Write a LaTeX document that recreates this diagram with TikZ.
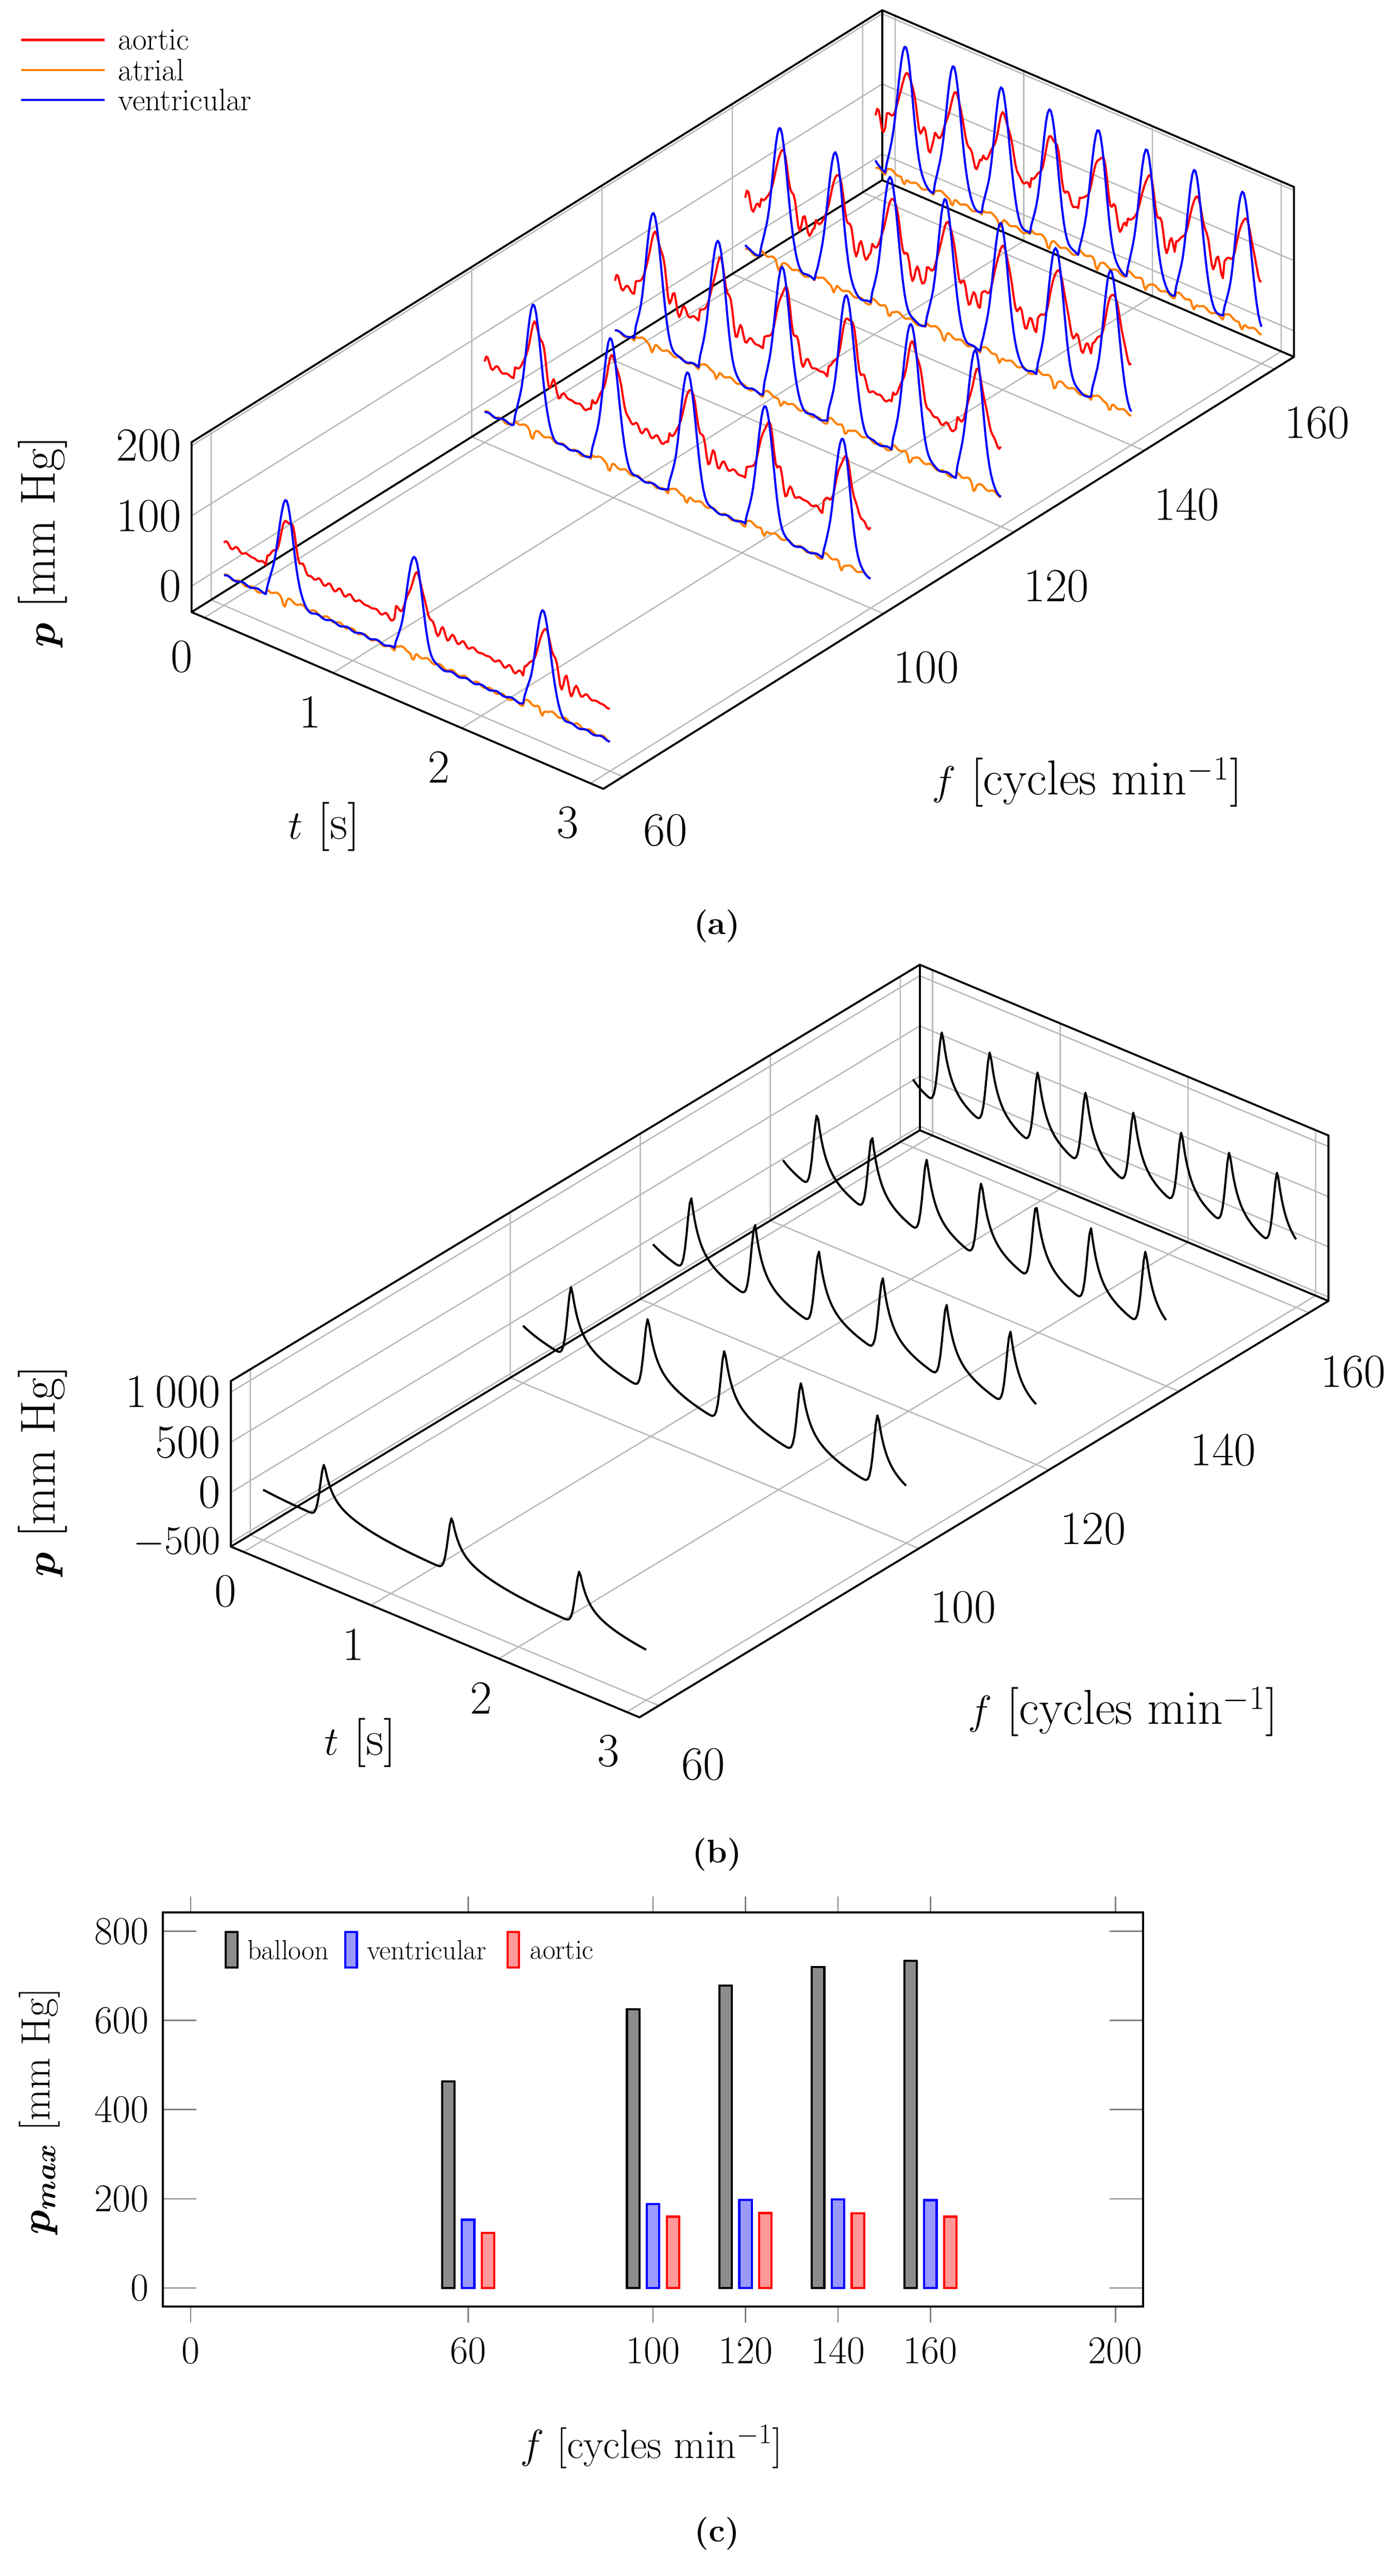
\documentclass[tikz,border=0pt]{standalone}
\usepackage{bm}
\tikzset{
  gridl/.style={draw=black!28,line width=0.8pt},
  boxl/.style={draw=black,line width=1.2pt},
  crv/.style={line width=1.3pt,line join=round},
  tlab/.style={font=\fontsize{29}{32}\selectfont,inner sep=0pt},
  alab/.style={font=\fontsize{30}{34}\selectfont,inner sep=0pt},
  clab/.style={font=\fontsize{24}{28}\selectfont,inner sep=0pt},
  capt/.style={font=\fontsize{20}{22}\selectfont\bfseries,inner sep=0pt},
  declare function={
    gs(\u)=exp(-min(\u*\u,20));
    qq(\s,\T,\c,\o)=Mod(\s-\c+\o,\T);
    vent(\s,\T,\c,\V)=6+(\V-6)*gs((qq(\s,\T,\c,0.15)-0.15)/0.085)+7*gs((qq(\s,\T,\c,0.15)-0.03)/0.025)+1.5*sin(3100*\s);
    aort(\s,\T,\c,\A,\B)=\B+8-16*qq(\s,\T,\c,0.15)/\T+(\A-\B)*gs((qq(\s,\T,\c,0.15)-0.17)/0.075)+(2+6*gs((qq(\s,\T,\c,0.15)-0.3)/0.1))*(sin(4100*\s)+sin(4900*\s));
    atr(\s,\T,\c)=12-8*qq(\s,\T,\c,0.15)/\T-12*gs((qq(\s,\T,\c,0.15)-0.14)/0.015)+2*sin(3700*\s);
    tl(\x)=0.5*exp(-min(\x/0.05,20))+0.5*exp(-min(\x/0.28,20));
    bal(\s,\T,\c,\P,\L)=\L+(\P-\L)*ifthenelse(qq(\s,\T,\c,0.12)<0.12,tl(qq(\s,\T,\c,0.12)-0.12+\T)+(1-tl(qq(\s,\T,\c,0.12)-0.12+\T))*gs((qq(\s,\T,\c,0.12)-0.12)/0.045),tl(max(qq(\s,\T,\c,0.12)-0.12,0)));
  }
}
\newcommand\dobox[7]{%
  \foreach \g in {0,1,2,3}{\draw[gridl] (\g,#3,#5)--(\g,#4,#5)--(\g,#4,#6);}
  \foreach \g in {60,100,120,140,160}{\draw[gridl] (#2,\g,#5)--(#1,\g,#5)--(#1,\g,#6);}
  \foreach \g in {#7}{\draw[gridl] (#1,#3,\g)--(#1,#4,\g)--(#2,#4,\g);}
  \draw[boxl] (#1,#3,#6)--(#1,#3,#5)--(#2,#3,#5)--(#2,#4,#5)--(#2,#4,#6)--(#1,#4,#6)--cycle;
  \draw[boxl] (#1,#3,#5)--(#1,#4,#5)--(#2,#4,#5);
  \draw[boxl] (#1,#4,#5)--(#1,#4,#6);
}
\newcommand\plab{$\bm{p}$ [mm Hg]}
\begin{document}
\begin{tikzpicture}[x=1pt,y=1pt]
\useasboundingbox (0,0) rectangle (850,-1574);
% ---------------- (a)
\begin{scope}[shift={(117pt,-374pt)},x={(78.6pt,-33.75pt)},y={(3.98pt,2.49pt)},z={(0pt,0.429pt)},shift={(0.1,-57,37)}]
  \dobox{-0.1}{3.1}{57}{163}{-37}{205}{0,100,200}
  \foreach \f/\T/\c/\V/\A/\B in {160/0.375/0.23/197/160/80,140/0.4286/0.27/199/167/80,120/0.5/0.30/198/168/80,100/0.6/0.38/188/160/80,60/1.0/0.48/150/120/55}{
    \draw[crv,red] plot[domain=0:3,samples=241,variable=\s] (\s,\f,{aort(\s,\T,\c,\A,\B)});
    \draw[crv,orange] plot[domain=0:3,samples=241,variable=\s] (\s,\f,{atr(\s,\T,\c)});
    \draw[crv,blue] plot[domain=0:3,samples=241,variable=\s] (\s,\f,{vent(\s,\T,\c,\V)});
  }
  \foreach \g in {0,100,200}{\node[tlab,anchor=east,xshift=-6pt] (ap\g) at (-0.1,57,\g) {\g};}
  \foreach \g in {0,1,2,3}{\node[tlab,xshift=-14pt,yshift=-24pt] (at\g) at (\g,57,-37) {\g};}
  \foreach \g in {60,100,120,140,160}{\node[tlab,xshift=26pt,yshift=-33pt] (af\g) at (3.1,\g,-37) {\g};}
\end{scope}
\node[alab] (atl) at (198,-505) {$t$ [s]};
\node[alab] (afl) at (664,-478) {$f$ [cycles min$^{-1}$]};
\node[alab,rotate=90] (apl) at (26,-331) {\plab};
\draw[crv,red] (13,-24.4) coordinate (la1) -- (64,-24.4) coordinate (la2);
\draw[crv,orange] (13,-42.7) coordinate (lb1) -- (64,-42.7) coordinate (lb2);
\draw[crv,blue] (13,-61) coordinate (lc1) -- (64,-61) coordinate (lc2);
\node[anchor=west,font=\fontsize{19}{21}\selectfont,inner sep=0pt] (lat) at (72,-24.4) {aortic};
\node[anchor=west,font=\fontsize{19}{21}\selectfont,inner sep=0pt] (lbt) at (72,-42.7) {atrial};
\node[anchor=west,font=\fontsize{19}{21}\selectfont,inner sep=0pt] (lct) at (72,-61) {ventricular};
\node[capt] (capa) at (438,-566) {(a)};
% ---------------- (b)
\begin{scope}[shift={(141pt,-945pt)},x={(78pt,-32.6pt)},y={(3.97pt,2.40pt)},z={(0pt,0.0613pt)},shift={(0.1,-57,540)}]
  \dobox{-0.1}{3.1}{57}{163}{-540}{1110}{-500,0,500,1000}
  \foreach \f/\T/\c/\P/\L in {160/0.375/0.23/734/-150,140/0.4286/0.27/720/-150,120/0.5/0.30/678/-150,100/0.6/0.38/625/-150,60/1.0/0.48/470/-80}{
    \draw[crv,black] plot[domain=0:3,samples=241,variable=\s] (\s,\f,{bal(\s,\T,\c,\P,\L)});
  }
  \foreach \g/\lab in {-500/$-500$,0/0,500/500,1000/1\,000}{\node[tlab,anchor=east,xshift=-6pt] (bp\g) at (-0.1,57,\g) {\lab};}
  \foreach \g in {0,1,2,3}{\node[tlab,xshift=-11pt,yshift=-24pt] (bt\g) at (\g,57,-540) {\g};}
  \foreach \g in {60,100,120,140,160}{\node[tlab,xshift=27pt,yshift=-36pt] (bf\g) at (3.1,\g,-540) {\g};}
\end{scope}
\node[alab] (btl) at (220,-1065) {$t$ [s]};
\node[alab] (bfl) at (686,-1046) {$f$ [cycles min$^{-1}$]};
\node[alab,rotate=90] (bpl) at (26,-899) {\plab};
\node[capt] (capb) at (438,-1133) {(b)};
% ---------------- (c)
\begin{scope}[shift={(116.5pt,-1398pt)},x=2.824pt,y=0.2725pt]
  \foreach \g in {0,60,100,120,140,160,200}{
    \draw[draw=black!50,line width=0.8pt] (\g,842)--(\g,878);
    \draw[draw=black!50,line width=0.8pt] (\g,-42)--(\g,-78);
    \node[clab] (cx\g) at (\g,-141) {\g};}
  \foreach \g in {0,200,400,600,800}{
    \draw[draw=black!50,line width=0.8pt] (-6,\g)--(1.2,\g);
    \draw[draw=black!50,line width=0.8pt] (206,\g)--(198.8,\g);
    \node[clab,anchor=east] (cy\g) at (-9,\g) {\g};}
  \foreach \f/\b/\v/\a in {60/463/153/124,100/625/188/160,120/678/198/168,140/720/199/167,160/734/197/160}{
    \draw[line width=1.3pt,draw=black,fill=black!45] (\f-5.65,0) rectangle (\f-2.95,\b);
    \draw[line width=1.3pt,draw=blue,fill=blue!40] (\f-1.35,0) rectangle (\f+1.35,\v);
    \draw[line width=1.3pt,draw=red,fill=red!40] (\f+2.95,0) rectangle (\f+5.65,\a);
  }
  \draw[line width=1.2pt] (-6,-42) rectangle (206,842);
\end{scope}
\draw[line width=1.3pt,draw=black,fill=black!45] (138,-1180.5) rectangle (145,-1202.3);
\node[anchor=west,font=\fontsize{17}{19}\selectfont,inner sep=0pt] (lg1) at (151,-1191.5) {balloon};
\draw[line width=1.3pt,draw=blue,fill=blue!40] (211,-1180.5) rectangle (218,-1202.3);
\node[anchor=west,font=\fontsize{17}{19}\selectfont,inner sep=0pt] (lg2) at (224,-1191.5) {ventricular};
\draw[line width=1.3pt,draw=red,fill=red!40] (310,-1180.5) rectangle (317,-1202.3);
\node[anchor=west,font=\fontsize{17}{19}\selectfont,inner sep=0pt] (lg3) at (323.5,-1191.5) {aortic};
\node[font=\fontsize{25}{28}\selectfont,inner sep=0pt] (cfl) at (398,-1495) {$f$ [cycles min$^{-1}$]};
\node[font=\fontsize{25}{28}\selectfont,inner sep=0pt,rotate=90] (cpl) at (24,-1290) {$\bm{p_{max}}$ [mm Hg]};
\node[capt] (capc) at (438,-1548) {(c)};
\end{tikzpicture}
\end{document}
